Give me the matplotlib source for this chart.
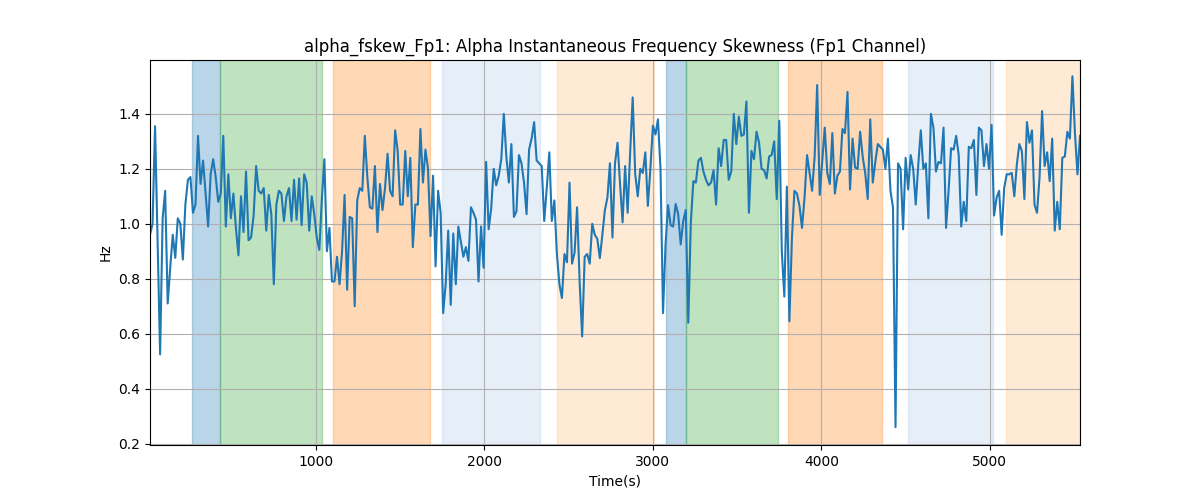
import numpy as np
import matplotlib
matplotlib.use("Agg")
import matplotlib.pyplot as plt

# sampling: one value every 15 s, starting at 15 s
t_start = 15
t_step = 15

values = [
    # segment 1
    0.96, 1.00, 1.355, 0.94, 0.525, 1.02, 1.12, 0.71, 0.84, 0.96,
    0.876, 1.02, 1.0, 0.87, 1.07, 1.16, 1.17, 1.04, 1.07, 1.32,
    1.145, 1.23, 1.11, 0.99, 1.18, 1.235, 1.17, 1.08, 1.11, 1.32,
    0.99, 1.18, 1.02, 1.11, 0.985, 0.885, 1.10, 0.97, 1.19, 0.94,
    0.95, 1.03, 1.21, 1.12, 1.11, 1.13, 0.975, 1.105, 1.035, 0.78,
    1.07, 1.12, 1.11, 1.01, 1.10, 1.13, 1.01, 1.16, 1.015, 1.165,
    0.995, 1.18, 1.15, 0.975, 1.10, 1.035, 0.95, 0.905, 1.09, 1.235,
    0.90, 0.985, 0.79, 0.79, 0.88, 0.78,
    # segment 2
    0.90, 1.105, 0.76, 1.025, 1.02, 0.70, 1.085, 1.13, 1.12, 1.32,
    1.17, 1.06, 1.055, 1.21, 0.97, 1.145, 1.05, 1.13, 1.255, 1.12,
    1.10, 1.34, 1.265, 1.07, 1.07, 1.265, 1.10, 1.24, 0.915, 1.07,
    1.07, 1.345, 1.15, 1.27, 1.2, 0.955, 1.175, 0.845, 1.12, 1.04,
    0.675, 0.78, 0.975, 0.705, 0.965, 0.78, 0.99, 0.935, 0.88, 0.915,
    0.865, 1.06, 1.04, 1.015, 0.79, 0.99, 0.84, 1.225, 0.98, 1.055,
    1.2, 1.14, 1.175, 1.235, 1.40, 1.245, 1.15, 1.29, 1.025, 1.045,
    1.25,
    # segment 3
    1.22, 1.15, 1.035, 1.27, 1.31, 1.37, 1.23, 1.22, 1.21, 1.01,
    1.13, 1.26, 1.01, 1.085, 0.89, 0.78, 0.73, 0.89, 0.86, 1.15,
    0.855, 0.895, 1.06, 0.79, 0.59, 0.88, 0.89, 0.855, 1.0, 0.96,
    0.945, 0.875, 0.96, 1.05, 1.095, 1.22, 0.95, 1.22, 1.295, 1.145,
    1.005, 1.21, 1.04, 1.26, 1.46, 1.18, 1.10, 1.2, 1.185, 1.26,
    1.065, 1.2, 1.357, 1.325, 1.38, 1.2, 0.675, 0.925, 1.068, 0.995,
    0.99, 1.072, 1.035, 0.925, 1.01, 1.05, 0.64, 1.005, 1.155, 1.15,
    1.23,
    # segment 4
    1.24, 1.19, 1.16, 1.14, 1.15, 1.195, 1.07, 1.275, 1.21, 1.305,
    1.305, 1.16, 1.19, 1.40, 1.29, 1.39, 1.32, 1.325, 1.445, 1.04,
    1.265, 1.235, 1.335, 1.295, 1.2, 1.195, 1.165, 1.245, 1.25, 1.30,
    1.09, 1.375, 0.90, 0.735, 1.135, 0.645, 0.945, 1.12, 1.11, 1.065,
    0.985, 1.095, 1.25, 1.185, 1.12, 1.245, 1.505, 1.105, 1.23, 1.35,
    1.185, 1.145, 1.33, 1.11, 1.175, 1.19, 1.345, 1.33, 1.48, 1.125,
    1.31, 1.205, 1.2, 1.335, 1.245, 1.185, 1.09, 1.38, 1.15, 1.225,
    1.29,
    # segment 5
    1.28, 1.27, 1.2, 1.31, 1.12, 1.06, 0.26, 1.22, 1.2, 0.98,
    1.24, 1.125, 1.25, 1.2, 1.07, 1.215, 1.34, 1.2, 1.22, 1.02,
    1.40, 1.35, 1.19, 1.225, 1.22, 1.35, 0.985, 1.12, 1.275, 1.27,
    1.32, 1.25, 0.99, 1.08, 1.01, 1.28, 1.275, 1.305, 1.105, 1.35,
    1.34, 1.21, 1.29, 1.2, 1.36, 1.03, 1.095, 1.12, 0.96, 1.13,
    1.18, 1.18, 1.185, 1.10, 1.215, 1.29, 1.265, 1.09, 1.37, 1.295,
    1.34, 1.07, 1.04, 1.17, 1.41, 1.21, 1.26, 1.155, 1.31, 0.975,
    1.08, 0.98, 1.24, 1.245, 1.335, 1.31, 1.537, 1.33, 1.18, 1.32,
]

span_starts = [264, 432, 1100, 1748, 2430, 3077, 3198, 3800, 4513, 5095]
span_ends = [432, 1034, 1678, 2328, 3008, 3198, 3740, 4357, 5020, 5535]
span_colors = ["tab:blue", "tab:green", "tab:orange", "#aec7e8", "#ffbb78",
               "tab:blue", "tab:green", "tab:orange", "#aec7e8", "#ffbb78"]
span_alpha = 0.3

times = t_start + t_step * np.arange(len(values))

fig, ax = plt.subplots(figsize=(12, 5), dpi=100)
for s, e, c in zip(span_starts, span_ends, span_colors):
    ax.axvspan(s, e, color=c, alpha=span_alpha)
ax.plot(times, values, color="tab:blue", linewidth=1.5)
ax.set_xlim(times[0], times[-1])
ax.set_ylim(0.195, 1.596)
ax.grid(True)
ax.set_title("alpha_fskew_Fp1: Alpha Instantaneous Frequency Skewness (Fp1 Channel)")
ax.set_xlabel("Time(s)")
ax.set_ylabel("Hz")
fig.savefig("out.png", dpi=100)
